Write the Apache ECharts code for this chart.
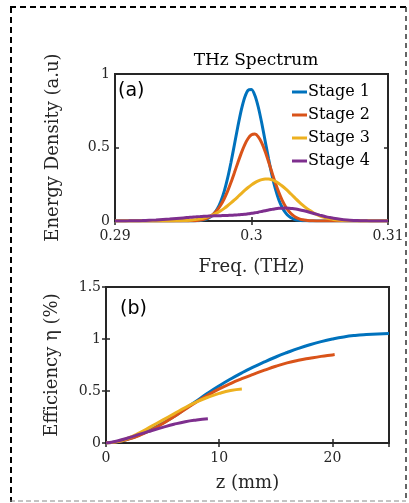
<!DOCTYPE html>
<html>
<head>
<meta charset="utf-8">
<script src="https://cdn.jsdelivr.net/npm/echarts@6/dist/echarts.min.js"></script>
<style>html,body{margin:0;padding:0;background:#fff;}#c{width:409px;height:503px;}</style>
</head>
<body>
<div id="c"></div>
<script>
// ---- Panel (a): THz spectrum ----
var freq = [0.2900,0.2905,0.2910,0.2915,0.2920,0.2925,0.2930,0.2935,0.2940,0.2945,
  0.29500,0.29525,0.29550,0.29575,0.29600,0.29625,0.29650,0.29675,0.29700,0.29725,
  0.29750,0.29775,0.29800,0.29825,0.29850,0.29875,0.29900,0.29925,0.29950,0.29975,
  0.30000,0.30025,0.30050,0.30075,0.30100,0.30125,0.30150,0.30175,0.30200,0.30225,
  0.30250,0.30275,0.30300,0.30325,0.30350,0.30375,0.30400,0.30425,0.30450,0.30475,
  0.30500,0.30525,0.30550,0.30575,0.30600,
  0.3065,0.3070,0.3075,0.3080,0.3085,0.3090,0.3095,0.3100];
var spec1 = [0,0,0,0,0,0,0,0,0,0,
  0,0.0001,0.0003,0.0007,0.0017,0.0037,0.0076,0.0149,0.0278,0.0493,
  0.0832,0.1330,0.2020,0.2916,0.3995,0.5202,0.6425,0.7541,0.8406,0.8897,
  0.8943,0.8537,0.7738,0.6662,0.5447,0.4229,0.3118,0.2183,0.1452,0.0917,
  0.0549,0.0313,0.0169,0.0087,0.0042,0.0020,0.0009,0.0004,0.0001,0,
  0,0,0,0,0,
  0,0,0,0,0,0,0,0];
var spec2 = [0,0,0,0,0,0,0,0,0,0.0001,
  0.0003,0.0006,0.0011,0.0021,0.0039,0.0070,0.0121,0.0202,0.0325,0.0504,
  0.0754,0.1087,0.1513,0.2033,0.2634,0.3293,0.3970,0.4619,0.5184,0.5614,
  0.5865,0.5910,0.5720,0.5308,0.4723,0.4030,0.3297,0.2586,0.1945,0.1403,
  0.0971,0.0644,0.0410,0.0250,0.0146,0.0082,0.0044,0.0023,0.0011,0.0005,
  0.0002,0.0001,0,0,0,
  0,0,0,0,0,0,0,0];
var spec3 = [0,0,0,0,0,0,0.0001,0.0002,0.0005,0.0012,
  0.0027,0.0040,0.0057,0.0080,0.0111,0.0151,0.0203,0.0269,0.0350,0.0448,
  0.0566,0.0703,0.0860,0.1036,0.1229,0.1434,0.1648,0.1865,0.2077,0.2277,
  0.2458,0.2613,0.2734,0.2817,0.2857,0.2851,0.2797,0.2698,0.2557,0.2381,
  0.2180,0.1962,0.1735,0.1508,0.1288,0.1081,0.0892,0.0724,0.0577,0.0452,
  0.0348,0.0263,0.0196,0.0143,0.0103,
  0.0050,0.0023,0.0010,0.0004,0.0001,0,0,0];
var spec4 = [0,0.0005,0.001,0.002,0.003,0.005,0.007,0.010,0.013,0.017,
  0.021,0.023,0.025,0.027,0.029,0.0305,0.032,0.033,0.034,0.035,
  0.036,0.0365,0.037,0.038,0.039,0.0405,0.042,0.044,0.046,0.049,
  0.052,0.056,0.060,0.065,0.070,0.075,0.079,0.083,0.086,0.0875,
  0.088,0.087,0.085,0.0815,0.077,0.072,0.066,0.0595,0.053,0.0465,
  0.040,0.034,0.028,0.0235,0.019,
  0.012,0.007,0.004,0.002,0.001,0.0005,0.0002,0];
var stageNames = ['Stage 1','Stage 2','Stage 3','Stage 4'];
var freqTicks = ['0.29','0.3','0.31'];
var specTicks = ['0','0.5','1'];

// ---- Panel (b): efficiency vs z ----
var z1 = [0,1,2,3,4,5,6,7,8,9,10,11,12,13,14,15,16,17,18,19,20,21,22,23,24,25];
var eff1 = [0,0.012,0.04,0.08,0.13,0.19,0.255,0.33,0.405,0.48,0.55,0.615,0.675,0.73,0.78,0.827,0.87,0.91,0.945,0.975,1.0,1.02,1.034,1.043,1.049,1.052];
var z2 = [0,1,2,3,4,5,6,7,8,9,10,11,12,13,14,15,16,17,18,19,20,20.2];
var eff2 = [0,0.011,0.037,0.075,0.125,0.185,0.252,0.325,0.395,0.46,0.52,0.572,0.618,0.66,0.70,0.738,0.77,0.795,0.815,0.833,0.847,0.85];
var z3 = [0,1,2,3,4,5,6,7,8,9,10,11,12];
var eff3 = [0,0.013,0.048,0.1,0.16,0.22,0.28,0.34,0.395,0.44,0.477,0.505,0.52];
var z4 = [0,1,2,3,4,5,6,7,8,9];
var eff4 = [0,0.02,0.05,0.085,0.118,0.15,0.18,0.205,0.222,0.234];
var effTicks = ['0','0.5','1','1.5'];
var zTicks = ['0','10','20'];

var colors = ['#0072BD','#D95319','#EDB120','#7E2F8E'];
var serif = '"DejaVu Serif", "Liberation Serif", serif';
var ink = '#262626';

function pairs(xs, ys){ return xs.map(function(x,i){ return [x, ys[i]]; }); }

var chart = echarts.init(document.getElementById('c'), null, {renderer:'canvas'});

function xAx(grid, min, max, interval, pos, show, name, gap, fmt){
  return {
    type:'value', gridIndex:grid, min:min, max:max, interval:interval, position:pos,
    axisLine:{show:false},
    axisTick:{show:true, inside:true, length:4, lineStyle:{color:ink, width:1.5}},
    axisLabel:{show:show, margin:8, fontFamily:serif, fontSize:14, color:ink, formatter:fmt},
    splitLine:{show:false},
    name: show ? name : '', nameLocation:'middle', nameGap:gap,
    nameTextStyle:{fontFamily:serif, fontSize:18, color:ink}
  };
}
function yAx(grid, min, max, interval, pos, show, name, gap, fmt){
  return {
    type:'value', gridIndex:grid, min:min, max:max, interval:interval, position:pos,
    axisLine:{show:false},
    axisTick:{show:true, inside:true, length:4, lineStyle:{color:ink, width:1.5}},
    axisLabel:{show:show, margin:5, fontFamily:serif, fontSize:14, color:ink, formatter:fmt},
    splitLine:{show:false},
    name: show ? name : '', nameLocation:'middle', nameGap:gap, nameRotate:90,
    nameTextStyle:{fontFamily:serif, fontSize:18, color:ink}
  };
}
var fmtF = function(v){ var i = Math.round((v-0.29)/0.01); return freqTicks[i] || ''; };
var fmtS = function(v){ var i = Math.round(v/0.5); return specTicks[i] || ''; };
var fmtE = function(v){ var i = Math.round(v/0.5); return effTicks[i] || ''; };
var fmtZ = function(v){ var i = Math.round(v/10); return zTicks[i] || ''; };

var seriesA = [spec1,spec2,spec3,spec4].map(function(d,i){
  return {name:stageNames[i], type:'line', xAxisIndex:0, yAxisIndex:0, data:pairs(freq,d),
    showSymbol:false, smooth:0.25, lineStyle:{width:3, color:colors[i]}, itemStyle:{color:colors[i]},
    z:2+i, animation:false};
});
var seriesB = [[z1,eff1],[z2,eff2],[z3,eff3],[z4,eff4]].map(function(p,i){
  return {name:stageNames[i]+' ', type:'line', xAxisIndex:2, yAxisIndex:2, data:pairs(p[0],p[1]),
    showSymbol:false, smooth:true, lineStyle:{width:3, color:colors[i]}, itemStyle:{color:colors[i]},
    z:2+i, animation:false};
});

var option = {
  backgroundColor:'#fff',
  animation:false,
  title:{text:'THz Spectrum', left:251, top:47, textAlign:'center',
    textStyle:{fontFamily:serif, fontSize:17, fontWeight:'normal', color:'#000'}},
  legend:{
    data:stageNames, orient:'vertical', left:292, top:82, padding:0, itemWidth:15, itemHeight:3,
    itemGap:3, icon:'rect',
    textStyle:{fontFamily:serif, fontSize:16, color:'#000', lineHeight:20, padding:[0,0,0,-4]}
  },
  grid:[
    {left:115, top:74, width:273, height:147, show:true, borderColor:ink, borderWidth:2, backgroundColor:'transparent'},
    {left:106, top:287, width:283, height:156, show:true, borderColor:ink, borderWidth:2, backgroundColor:'transparent'}
  ],
  xAxis:[
    xAx(0,0.29,0.31,0.01,'bottom',true,'Freq. (THz)',37,fmtF),
    xAx(0,0.29,0.31,0.01,'top',false,'',0,fmtF),
    xAx(1,0,25,10,'bottom',true,'z (mm)',31,fmtZ),
    xAx(1,0,25,10,'top',false,'',0,fmtZ)
  ],
  yAxis:[
    yAx(0,0,1,0.5,'left',true,'Energy Density (a.u)',53,fmtS),
    yAx(0,0,1,0.5,'right',false,'',0,fmtS),
    yAx(1,0,1.5,0.5,'left',true,'Efficiency \u03B7 (%)',45,fmtE),
    yAx(1,0,1.5,0.5,'right',false,'',0,fmtE)
  ],
  series: seriesA.concat(seriesB),
  graphic:[
    {type:'text', left:118, top:82, style:{text:'(a)', font:'19px "DejaVu Sans"', fill:'#000'}, z:10},
    {type:'text', left:120, top:300, style:{text:'(b)', font:'19px "DejaVu Sans"', fill:'#000'}, z:10},
    {type:'line', shape:{x1:11,y1:7,x2:11,y2:502}, style:{stroke:'#000', lineWidth:2, lineDash:[6,4]}},
    {type:'line', shape:{x1:10,y1:7,x2:406,y2:7}, style:{stroke:'#000', lineWidth:2, lineDash:[6,4]}},
    {type:'line', shape:{x1:406,y1:7,x2:406,y2:502}, style:{stroke:'#333', lineWidth:1.5, lineDash:[5,4]}},
    {type:'line', shape:{x1:10,y1:501,x2:406,y2:501}, style:{stroke:'#888', lineWidth:1, lineDash:[5,3]}}
  ]
};
chart.setOption(option);
</script>
</body>
</html>
